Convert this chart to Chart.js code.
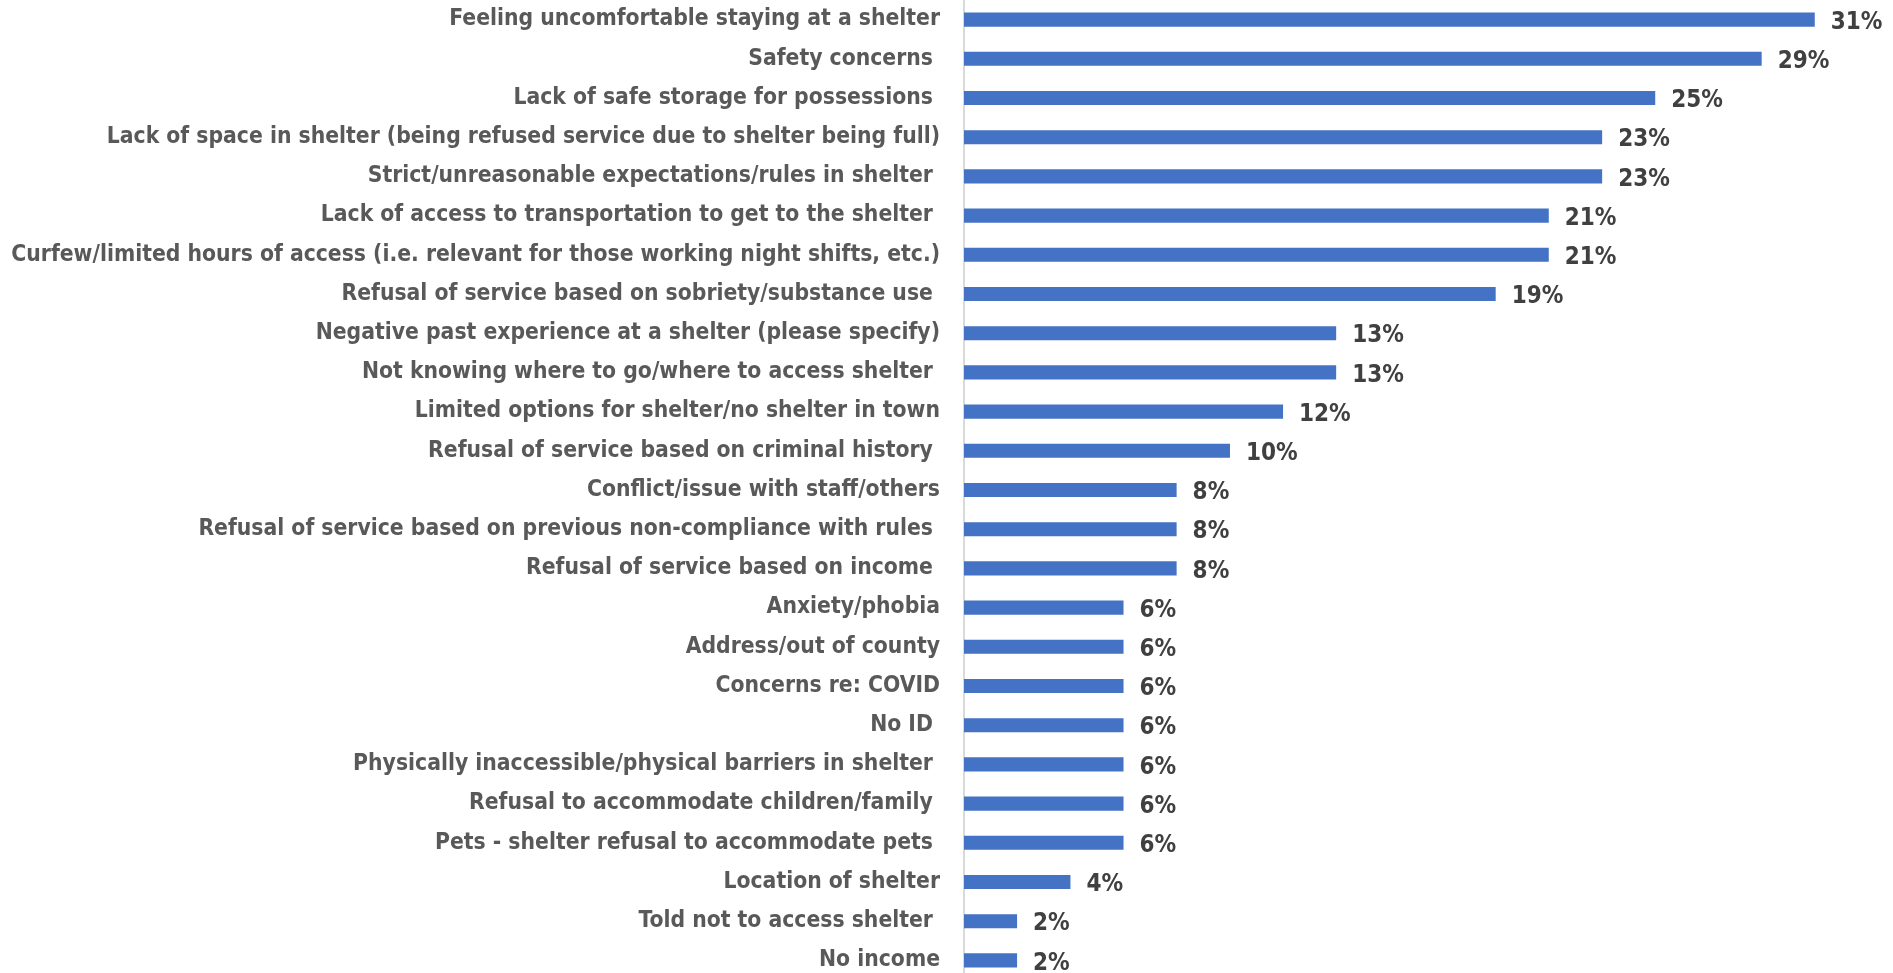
<!DOCTYPE html>
<html lang="en">
<head>
    <meta charset="UTF-8">
    <title>Reasons for not accessing shelter</title>
    <script src="https://cdn.jsdelivr.net/npm/chart.js"></script>
    <style>
        html, body { margin: 0; padding: 0; overflow: hidden; background: #fff; }
    </style>
</head>
<body>
    <canvas id="myChart" width="1893" height="980"></canvas>

    <script>
        const reasons = [
            'Feeling uncomfortable staying at a shelter',
            'Safety concerns ',
            'Lack of safe storage for possessions ',
            'Lack of space in shelter (being refused service due to shelter being full)',
            'Strict/unreasonable expectations/rules in shelter ',
            'Lack of access to transportation to get to the shelter ',
            'Curfew/limited hours of access (i.e. relevant for those working night shifts, etc.)',
            'Refusal of service based on sobriety/substance use ',
            'Negative past experience at a shelter (please specify)',
            'Not knowing where to go/where to access shelter ',
            'Limited options for shelter/no shelter in town',
            'Refusal of service based on criminal history ',
            'Conflict/issue with staff/others',
            'Refusal of service based on previous non-compliance with rules ',
            'Refusal of service based on income ',
            'Anxiety/phobia',
            'Address/out of county',
            'Concerns re: COVID',
            'No ID ',
            'Physically inaccessible/physical barriers in shelter ',
            'Refusal to accommodate children/family ',
            'Pets - shelter refusal to accommodate pets ',
            'Location of shelter',
            'Told not to access shelter ',
            'No income'
        ];

        // percent of respondents
        const percents = [
            30.77, 28.85, 25.00, 23.08, 23.08, 21.15, 21.15, 19.23, 13.46, 13.46,
            11.54, 9.62, 7.69, 7.69, 7.69, 5.77, 5.77, 5.77, 5.77, 5.77,
            5.77, 5.77, 3.85, 1.92, 1.92
        ];

        const labelFont = '"Liberation Sans Narrow", "DejaVu Sans Condensed", Arial, sans-serif';

        // draws the "31%" style labels after each bar
        const barValueLabels = {
            id: 'barValueLabels',
            afterDatasetsDraw(chart) {
                const ctx = chart.ctx;
                const meta = chart.getDatasetMeta(0);
                ctx.save();
                ctx.font = 'bold 24px ' + labelFont;
                ctx.fillStyle = '#404040';
                ctx.textAlign = 'left';
                ctx.textBaseline = 'middle';
                meta.data.forEach((bar, i) => {
                    ctx.fillText(Math.round(percents[i]) + '%', bar.x + 16, bar.y + 3);
                });
                ctx.restore();
            }
        };

        const ctx = document.getElementById('myChart').getContext('2d');

        new Chart(ctx, {
            type: 'bar',
            data: {
                labels: reasons,
                datasets: [{
                    data: percents,
                    backgroundColor: '#4472C4',
                    borderWidth: 0,
                    barPercentage: 0.72,
                    categoryPercentage: 0.5
                }]
            },
            options: {
                indexAxis: 'y',
                responsive: false,
                animation: false,
                layout: { padding: 0 },
                plugins: {
                    legend: { display: false },
                    tooltip: { enabled: false }
                },
                scales: {
                    x: {
                        min: 0,
                        max: 33.6,
                        display: false
                    },
                    y: {
                        afterFit(scale) {
                            scale.width = 964;
                            scale.paddingTop = 0;
                            scale.paddingBottom = 0;
                        },
                        grid: { display: false, drawTicks: false },
                        border: { display: true, color: '#D9D9D9', width: 2 },
                        ticks: {
                            padding: 24,
                            color: '#595959',
                            autoSkip: false,
                            font: { family: labelFont, size: 22.7, weight: 'bold' }
                        }
                    }
                }
            },
            plugins: [barValueLabels]
        });
    </script>
</body>
</html>
